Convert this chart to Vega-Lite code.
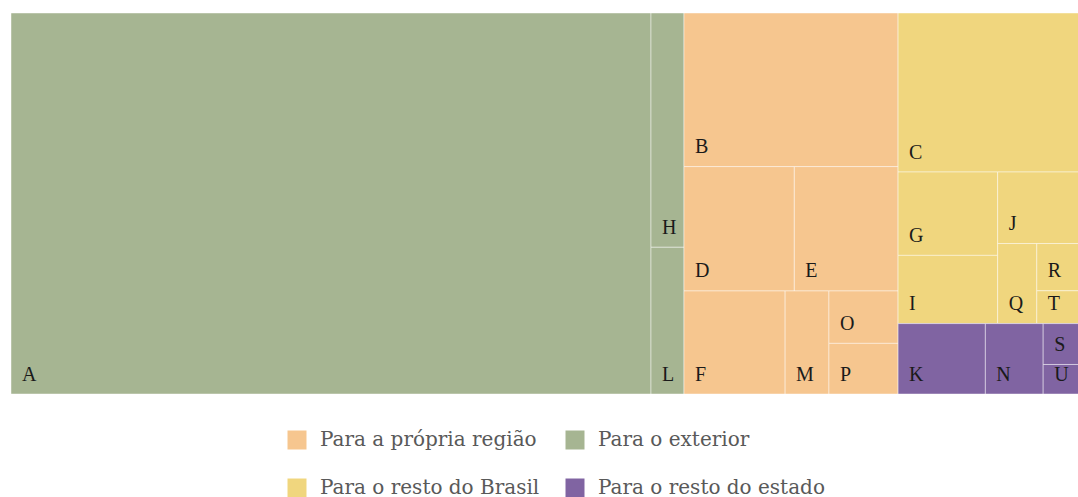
{
  "$schema": "https://vega.github.io/schema/vega-lite/v6.json",
  "width": 1068,
  "height": 381,
  "padding": {"left": 10, "top": 12, "right": 0, "bottom": 0},
  "background": "#ffffff",
  "config": {"view": {"stroke": null}},
  "data": {"values": [
    {"name": "A", "cat": "Para o exterior", "value": 59.92, "l1": "GRN"},
    {"name": "H", "cat": "Para o exterior", "value": 1.90, "l1": "GRN", "l2": "HL"},
    {"name": "L", "cat": "Para o exterior", "value": 1.19, "l1": "GRN", "l2": "HL"},
    {"name": "B", "cat": "Para a própria região", "value": 8.08, "l1": "ORG"},
    {"name": "D", "cat": "Para a própria região", "value": 3.37, "l1": "ORG", "l2": "DE"},
    {"name": "E", "cat": "Para a própria região", "value": 3.17, "l1": "ORG", "l2": "DE"},
    {"name": "F", "cat": "Para a própria região", "value": 2.56, "l1": "ORG", "l2": "FMOP"},
    {"name": "M", "cat": "Para a própria região", "value": 1.11, "l1": "ORG", "l2": "FMOP"},
    {"name": "O", "cat": "Para a própria região", "value": 0.89, "l1": "ORG", "l2": "FMOP", "l3": "OP"},
    {"name": "P", "cat": "Para a própria região", "value": 0.86, "l1": "ORG", "l2": "FMOP", "l3": "OP"},
    {"name": "C", "cat": "Para o resto do Brasil", "value": 7.07, "l1": "RC", "l2": "YEL"},
    {"name": "G", "cat": "Para o resto do Brasil", "value": 2.04, "l1": "RC", "l2": "YEL", "l3": "YR", "l4": "GI"},
    {"name": "I", "cat": "Para o resto do Brasil", "value": 1.67, "l1": "RC", "l2": "YEL", "l3": "YR", "l4": "GI"},
    {"name": "J", "cat": "Para o resto do Brasil", "value": 1.43, "l1": "RC", "l2": "YEL", "l3": "YR", "l4": "JQRT"},
    {"name": "Q", "cat": "Para o resto do Brasil", "value": 0.77, "l1": "RC", "l2": "YEL", "l3": "YR", "l4": "JQRT", "l5": "QRT"},
    {"name": "R", "cat": "Para o resto do Brasil", "value": 0.49, "l1": "RC", "l2": "YEL", "l3": "YR", "l4": "JQRT", "l5": "QRT", "l6": "RT"},
    {"name": "T", "cat": "Para o resto do Brasil", "value": 0.34, "l1": "RC", "l2": "YEL", "l3": "YR", "l4": "JQRT", "l5": "QRT", "l6": "RT"},
    {"name": "K", "cat": "Para o resto do estado", "value": 1.51, "l1": "RC", "l2": "PUR"},
    {"name": "N", "cat": "Para o resto do estado", "value": 1.00, "l1": "RC", "l2": "PUR"},
    {"name": "S", "cat": "Para o resto do estado", "value": 0.36, "l1": "RC", "l2": "PUR", "l3": "SU"},
    {"name": "U", "cat": "Para o resto do estado", "value": 0.26, "l1": "RC", "l2": "PUR", "l3": "SU"}
  ]},
  "transform": [
    {"window": [{"op": "row_number", "as": "idx"}]},
    {"calculate": "datum.l1 || datum.name", "as": "n1"},
    {"calculate": "datum.l2 || datum.name", "as": "n2"},
    {"calculate": "datum.l3 || datum.name", "as": "n3"},
    {"calculate": "datum.l4 || datum.name", "as": "n4"},
    {"calculate": "datum.l5 || datum.name", "as": "n5"},
    {"calculate": "datum.l6 || datum.name", "as": "n6"},
    {"calculate": "datum.l7 || datum.name", "as": "n7"},
    {"joinaggregate": [{"op": "sum", "field": "value", "as": "t0"}]},
    {"calculate": "0", "as": "x0_0"},
    {"calculate": "1068", "as": "x1_0"},
    {"calculate": "0", "as": "y0_0"},
    {"calculate": "381", "as": "y1_0"},

    {"window": [{"op": "sum", "field": "value", "as": "c1"}], "sort": [{"field": "idx"}], "frame": [null, 0]},
    {"joinaggregate": [{"op": "sum", "field": "value", "as": "t1"}, {"op": "max", "field": "c1", "as": "e1"}], "groupby": ["n1"]},
    {"calculate": "(datum.x1_0-datum.x0_0)>=(datum.y1_0-datum.y0_0) ? datum.x0_0+(datum.x1_0-datum.x0_0)*(datum.e1-datum.t1)/datum.t0 : datum.x0_0", "as": "x0_1"},
    {"calculate": "(datum.x1_0-datum.x0_0)>=(datum.y1_0-datum.y0_0) ? datum.x0_0+(datum.x1_0-datum.x0_0)*datum.e1/datum.t0 : datum.x1_0", "as": "x1_1"},
    {"calculate": "(datum.x1_0-datum.x0_0)>=(datum.y1_0-datum.y0_0) ? datum.y0_0 : datum.y0_0+(datum.y1_0-datum.y0_0)*(datum.e1-datum.t1)/datum.t0", "as": "y0_1"},
    {"calculate": "(datum.x1_0-datum.x0_0)>=(datum.y1_0-datum.y0_0) ? datum.y1_0 : datum.y0_0+(datum.y1_0-datum.y0_0)*datum.e1/datum.t0", "as": "y1_1"},

    {"window": [{"op": "sum", "field": "value", "as": "c2"}], "groupby": ["n1"], "sort": [{"field": "idx"}], "frame": [null, 0]},
    {"joinaggregate": [{"op": "sum", "field": "value", "as": "t2"}, {"op": "max", "field": "c2", "as": "e2"}], "groupby": ["n2"]},
    {"calculate": "(datum.x1_1-datum.x0_1)>=(datum.y1_1-datum.y0_1) ? datum.x0_1+(datum.x1_1-datum.x0_1)*(datum.e2-datum.t2)/datum.t1 : datum.x0_1", "as": "x0_2"},
    {"calculate": "(datum.x1_1-datum.x0_1)>=(datum.y1_1-datum.y0_1) ? datum.x0_1+(datum.x1_1-datum.x0_1)*datum.e2/datum.t1 : datum.x1_1", "as": "x1_2"},
    {"calculate": "(datum.x1_1-datum.x0_1)>=(datum.y1_1-datum.y0_1) ? datum.y0_1 : datum.y0_1+(datum.y1_1-datum.y0_1)*(datum.e2-datum.t2)/datum.t1", "as": "y0_2"},
    {"calculate": "(datum.x1_1-datum.x0_1)>=(datum.y1_1-datum.y0_1) ? datum.y1_1 : datum.y0_1+(datum.y1_1-datum.y0_1)*datum.e2/datum.t1", "as": "y1_2"},

    {"window": [{"op": "sum", "field": "value", "as": "c3"}], "groupby": ["n2"], "sort": [{"field": "idx"}], "frame": [null, 0]},
    {"joinaggregate": [{"op": "sum", "field": "value", "as": "t3"}, {"op": "max", "field": "c3", "as": "e3"}], "groupby": ["n3"]},
    {"calculate": "(datum.x1_2-datum.x0_2)>=(datum.y1_2-datum.y0_2) ? datum.x0_2+(datum.x1_2-datum.x0_2)*(datum.e3-datum.t3)/datum.t2 : datum.x0_2", "as": "x0_3"},
    {"calculate": "(datum.x1_2-datum.x0_2)>=(datum.y1_2-datum.y0_2) ? datum.x0_2+(datum.x1_2-datum.x0_2)*datum.e3/datum.t2 : datum.x1_2", "as": "x1_3"},
    {"calculate": "(datum.x1_2-datum.x0_2)>=(datum.y1_2-datum.y0_2) ? datum.y0_2 : datum.y0_2+(datum.y1_2-datum.y0_2)*(datum.e3-datum.t3)/datum.t2", "as": "y0_3"},
    {"calculate": "(datum.x1_2-datum.x0_2)>=(datum.y1_2-datum.y0_2) ? datum.y1_2 : datum.y0_2+(datum.y1_2-datum.y0_2)*datum.e3/datum.t2", "as": "y1_3"},

    {"window": [{"op": "sum", "field": "value", "as": "c4"}], "groupby": ["n3"], "sort": [{"field": "idx"}], "frame": [null, 0]},
    {"joinaggregate": [{"op": "sum", "field": "value", "as": "t4"}, {"op": "max", "field": "c4", "as": "e4"}], "groupby": ["n4"]},
    {"calculate": "(datum.x1_3-datum.x0_3)>=(datum.y1_3-datum.y0_3) ? datum.x0_3+(datum.x1_3-datum.x0_3)*(datum.e4-datum.t4)/datum.t3 : datum.x0_3", "as": "x0_4"},
    {"calculate": "(datum.x1_3-datum.x0_3)>=(datum.y1_3-datum.y0_3) ? datum.x0_3+(datum.x1_3-datum.x0_3)*datum.e4/datum.t3 : datum.x1_3", "as": "x1_4"},
    {"calculate": "(datum.x1_3-datum.x0_3)>=(datum.y1_3-datum.y0_3) ? datum.y0_3 : datum.y0_3+(datum.y1_3-datum.y0_3)*(datum.e4-datum.t4)/datum.t3", "as": "y0_4"},
    {"calculate": "(datum.x1_3-datum.x0_3)>=(datum.y1_3-datum.y0_3) ? datum.y1_3 : datum.y0_3+(datum.y1_3-datum.y0_3)*datum.e4/datum.t3", "as": "y1_4"},

    {"window": [{"op": "sum", "field": "value", "as": "c5"}], "groupby": ["n4"], "sort": [{"field": "idx"}], "frame": [null, 0]},
    {"joinaggregate": [{"op": "sum", "field": "value", "as": "t5"}, {"op": "max", "field": "c5", "as": "e5"}], "groupby": ["n5"]},
    {"calculate": "(datum.x1_4-datum.x0_4)>=(datum.y1_4-datum.y0_4) ? datum.x0_4+(datum.x1_4-datum.x0_4)*(datum.e5-datum.t5)/datum.t4 : datum.x0_4", "as": "x0_5"},
    {"calculate": "(datum.x1_4-datum.x0_4)>=(datum.y1_4-datum.y0_4) ? datum.x0_4+(datum.x1_4-datum.x0_4)*datum.e5/datum.t4 : datum.x1_4", "as": "x1_5"},
    {"calculate": "(datum.x1_4-datum.x0_4)>=(datum.y1_4-datum.y0_4) ? datum.y0_4 : datum.y0_4+(datum.y1_4-datum.y0_4)*(datum.e5-datum.t5)/datum.t4", "as": "y0_5"},
    {"calculate": "(datum.x1_4-datum.x0_4)>=(datum.y1_4-datum.y0_4) ? datum.y1_4 : datum.y0_4+(datum.y1_4-datum.y0_4)*datum.e5/datum.t4", "as": "y1_5"},

    {"window": [{"op": "sum", "field": "value", "as": "c6"}], "groupby": ["n5"], "sort": [{"field": "idx"}], "frame": [null, 0]},
    {"joinaggregate": [{"op": "sum", "field": "value", "as": "t6"}, {"op": "max", "field": "c6", "as": "e6"}], "groupby": ["n6"]},
    {"calculate": "(datum.x1_5-datum.x0_5)>=(datum.y1_5-datum.y0_5) ? datum.x0_5+(datum.x1_5-datum.x0_5)*(datum.e6-datum.t6)/datum.t5 : datum.x0_5", "as": "x0_6"},
    {"calculate": "(datum.x1_5-datum.x0_5)>=(datum.y1_5-datum.y0_5) ? datum.x0_5+(datum.x1_5-datum.x0_5)*datum.e6/datum.t5 : datum.x1_5", "as": "x1_6"},
    {"calculate": "(datum.x1_5-datum.x0_5)>=(datum.y1_5-datum.y0_5) ? datum.y0_5 : datum.y0_5+(datum.y1_5-datum.y0_5)*(datum.e6-datum.t6)/datum.t5", "as": "y0_6"},
    {"calculate": "(datum.x1_5-datum.x0_5)>=(datum.y1_5-datum.y0_5) ? datum.y1_5 : datum.y0_5+(datum.y1_5-datum.y0_5)*datum.e6/datum.t5", "as": "y1_6"},

    {"window": [{"op": "sum", "field": "value", "as": "c7"}], "groupby": ["n6"], "sort": [{"field": "idx"}], "frame": [null, 0]},
    {"joinaggregate": [{"op": "sum", "field": "value", "as": "t7"}, {"op": "max", "field": "c7", "as": "e7"}], "groupby": ["n7"]},
    {"calculate": "(datum.x1_6-datum.x0_6)>=(datum.y1_6-datum.y0_6) ? datum.x0_6+(datum.x1_6-datum.x0_6)*(datum.e7-datum.t7)/datum.t6 : datum.x0_6", "as": "x0_7"},
    {"calculate": "(datum.x1_6-datum.x0_6)>=(datum.y1_6-datum.y0_6) ? datum.x0_6+(datum.x1_6-datum.x0_6)*datum.e7/datum.t6 : datum.x1_6", "as": "x1_7"},
    {"calculate": "(datum.x1_6-datum.x0_6)>=(datum.y1_6-datum.y0_6) ? datum.y0_6 : datum.y0_6+(datum.y1_6-datum.y0_6)*(datum.e7-datum.t7)/datum.t6", "as": "y0_7"},
    {"calculate": "(datum.x1_6-datum.x0_6)>=(datum.y1_6-datum.y0_6) ? datum.y1_6 : datum.y0_6+(datum.y1_6-datum.y0_6)*datum.e7/datum.t6", "as": "y1_7"}
  ],
  "layer": [
    {
      "mark": {"type": "rect", "stroke": "#ffffff", "strokeWidth": 1, "strokeOpacity": 0.45},
      "encoding": {
        "x": {"field": "x0_7", "type": "quantitative", "scale": {"domain": [0, 1068], "nice": false, "zero": false}, "axis": null},
        "x2": {"field": "x1_7"},
        "y": {"field": "y0_7", "type": "quantitative", "scale": {"domain": [0, 381], "nice": false, "zero": false, "reverse": true}, "axis": null},
        "y2": {"field": "y1_7"},
        "color": {
          "field": "cat",
          "type": "nominal",
          "scale": {
            "domain": ["Para a própria região", "Para o exterior", "Para o resto do Brasil", "Para o resto do estado"],
            "range": ["#f6c68f", "#a6b592", "#f0d67e", "#8064a2"]
          },
          "legend": {
            "orient": "none",
            "direction": "horizontal",
            "legendX": 276,
            "legendY": 417,
            "columns": 2,
            "title": null,
            "symbolType": "square",
            "symbolSize": 361,
            "symbolStrokeWidth": 0,
            "symbolOpacity": 1,
            "labelFont": "DejaVu Serif",
            "labelFontSize": 20,
            "labelColor": "#595959",
            "labelOffset": 13,
            "columnPadding": 25,
            "rowPadding": 28,
            "padding": 0,
            "labelLimit": 400
          }
        }
      }
    },
    {
      "mark": {"type": "text", "align": "left", "baseline": "alphabetic", "dx": 11, "dy": -13.5, "font": "Liberation Serif", "fontSize": 20, "color": "#1a1a1a"},
      "encoding": {
        "x": {"field": "x0_7", "type": "quantitative", "axis": null},
        "y": {"field": "y1_7", "type": "quantitative", "axis": null},
        "text": {"field": "name"}
      }
    }
  ]
}
